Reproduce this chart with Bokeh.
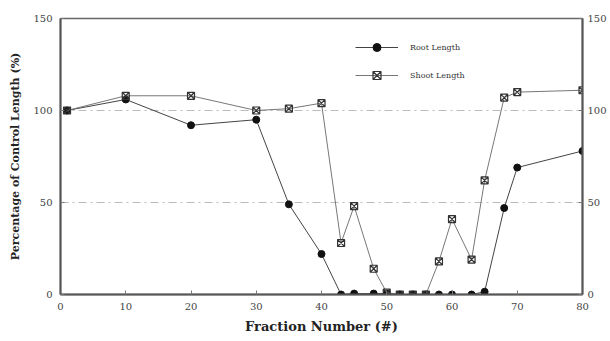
from bokeh.plotting import figure
from bokeh.models import LinearAxis, FixedTicker, Legend, LegendItem, Range1d
from bokeh.embed import file_html
from bokeh.resources import INLINE

# Data
root_x = [1, 10, 20, 30, 35, 40, 43, 45, 48, 50, 52, 54, 56, 58, 60, 63, 65, 68, 70, 80]
root_y = [100, 106, 92, 95, 49, 22, 0, 0.5, 0.5, 0.5, 0, 0, 0, 0, 0, 0, 1.5, 47, 69, 78]
shoot_x = [1, 10, 20, 30, 35, 40, 43, 45, 48, 50, 52, 54, 56, 58, 60, 63, 65, 68, 70, 80]
shoot_y = [100, 108, 108, 100, 101, 104, 28, 48, 14, 1, 0, 0, 0, 18, 41, 19, 62, 107, 110, 111]
x_ticks = [0, 10, 20, 30, 40, 50, 60, 70, 80]
y_ticks = [0, 50, 100, 150]
series_names = ["Root Length", "Shoot Length"]

SERIF = "DejaVu Serif"

p = figure(width=610, height=341, output_backend="svg", toolbar_location=None,
           x_range=Range1d(0, 80), y_range=Range1d(0, 150),
           min_border_left=60, min_border_right=28, min_border_top=18, min_border_bottom=47)
p.background_fill_color = "white"
p.border_fill_color = "white"
p.outline_line_color = "#666666"
p.outline_line_width = 1.5

r_line = p.line(root_x, root_y, line_color="#444444", line_width=1)
r_pts = p.scatter(root_x, root_y, marker="circle", size=7, fill_color="#111111", line_color="#111111")
s_line = p.line(shoot_x, shoot_y, line_color="#777777", line_width=1)
s_pts = p.scatter(shoot_x, shoot_y, marker="square_x", size=7, fill_color=None, line_color="#333333", line_width=1.2)

p.xgrid.visible = False
p.ygrid.ticker = FixedTicker(ticks=[50, 100])
p.ygrid.grid_line_color = "#bbbbbb"
p.ygrid.grid_line_dash = "8 4 2 4"
p.ygrid.grid_line_width = 1

right = LinearAxis()
p.add_layout(right, "right")

for ax in p.xaxis:
    ax.ticker = FixedTicker(ticks=x_ticks)
for ax in list(p.yaxis):
    ax.ticker = FixedTicker(ticks=y_ticks)

for ax in list(p.xaxis) + list(p.yaxis):
    ax.axis_line_color = "#555555"
    ax.axis_line_width = 2
    ax.major_tick_in = 4
    ax.major_tick_out = 0
    ax.major_tick_line_color = "#777777"
    ax.minor_tick_line_color = None
    ax.major_label_text_font = SERIF
    ax.major_label_text_font_size = "10px"
    ax.major_label_text_color = "#444444"
    ax.major_label_standoff = 8
right.major_label_standoff = 5

p.xaxis.axis_label = "Fraction Number (#)"
p.xaxis.axis_label_text_font = SERIF
p.xaxis.axis_label_text_font_style = "bold"
p.xaxis.axis_label_text_font_size = "13px"
p.xaxis.axis_label_text_color = "#222222"
p.xaxis.axis_label_standoff = 6

p.yaxis[0].axis_label = "Percentage of Control Length (%)"
p.yaxis[0].axis_label_text_font = SERIF
p.yaxis[0].axis_label_text_font_style = "bold"
p.yaxis[0].axis_label_text_font_size = "11px"
p.yaxis[0].axis_label_text_color = "#222222"
p.yaxis[0].axis_label_standoff = 8

legend = Legend(items=[LegendItem(label=series_names[0], renderers=[r_line, r_pts]),
                       LegendItem(label=series_names[1], renderers=[s_line, s_pts])],
                location=(285, 199))
legend.border_line_alpha = 0
legend.background_fill_alpha = 0
legend.label_text_font = SERIF
legend.label_text_font_size = "8px"
legend.label_text_color = "#333333"
legend.glyph_width = 43
legend.glyph_height = 20
legend.spacing = 8
legend.padding = 10
legend.label_standoff = 12
p.add_layout(legend, "center")

open("out.html", "w").write(file_html(p, INLINE))
